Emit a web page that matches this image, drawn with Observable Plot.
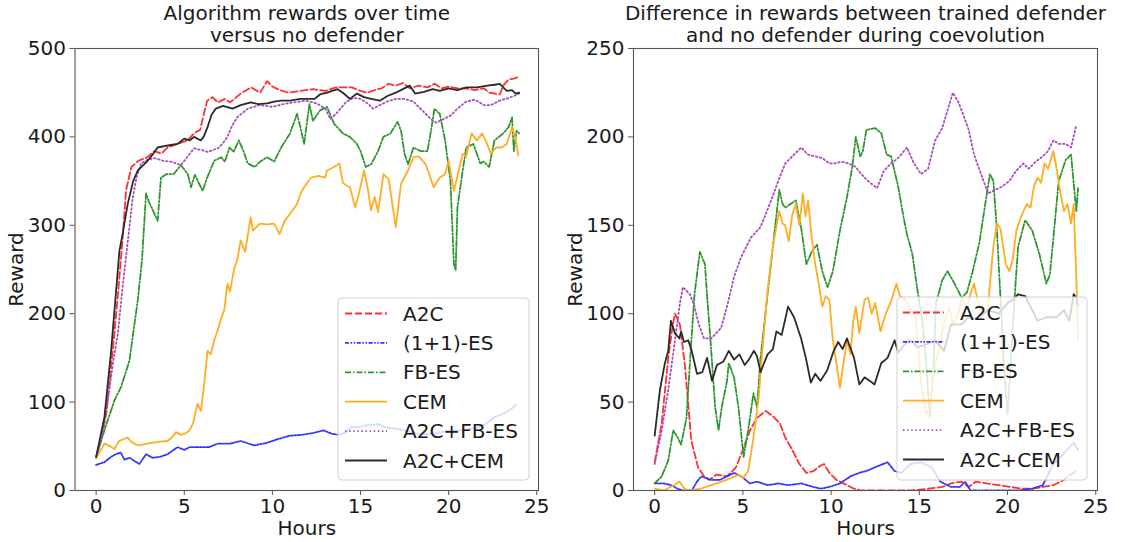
<!DOCTYPE html>
<html>
<head>
<meta charset="utf-8">
<script src="https://cdn.jsdelivr.net/npm/d3@7"></script>
<script src="https://cdn.jsdelivr.net/npm/@observablehq/plot@0.6"></script>
<style>
  html, body { margin: 0; padding: 0; background: #fff; }
  #fig { position: relative; width: 1123px; height: 542px; font-family: "DejaVu Sans", sans-serif; }
  .panel { position: absolute; top: 0; }
  .legend { position: absolute; }
</style>
</head>
<body>
<div id="fig"></div>
<script>
// ---------- series names & styles ----------
const names = ["A2C", "(1+1)-ES", "FB-ES", "CEM", "A2C+FB-ES", "A2C+CEM"];
const colors = ["#ff3030", "#3535ff", "#2f962f", "#ffad22", "#a94bc0", "#2a2a2a"];
const dashes = ["7,3", "4,1.6,1.5,1.6,1.5,1.6", "6,2,1.5,2", "none", "1.5,2.6", "none"];

// ---------- titles & ticks ----------
const leftTitle = "Algorithm rewards over time\nversus no defender";
const rightTitle = "Difference in rewards between trained defender\nand no defender during coevolution";
const xTicks = [0, 5, 10, 15, 20, 25];
const leftYTicks = [0, 100, 200, 300, 400, 500];
const rightYTicks = [0, 50, 100, 150, 200, 250];

// ---------- left panel data [hours, reward] ----------
const L_A2C = [[0,38],[0.3,58],[0.6,90],[0.95,160],[1.25,225],[1.5,285],[1.7,340],[2.0,366],[2.4,373],[2.9,377],[3.3,384],[3.7,381],[4.05,388],[4.6,392],[5.2,396],[5.55,404],[5.9,408],[6.1,425],[6.3,441],[6.6,445],[6.9,439],[7.3,443],[7.6,439],[8.2,449],[8.8,456],[9.3,450],[9.7,463],[10.0,457],[10.3,454],[10.9,450],[11.6,452],[12.3,454],[13.0,452],[13.6,456],[14.2,456],[14.5,456],[15.0,452],[15.4,450],[15.8,453],[16.2,455],[16.6,460],[17.0,458],[17.4,461],[17.8,455],[18.3,458],[18.8,456],[19.2,460],[19.6,455],[20.0,457],[20.5,455],[20.9,455],[21.5,453],[22.0,455],[22.3,450],[22.9,448],[23.1,458],[23.4,465],[23.7,466],[24.0,468]];
const L_ES = [[0,29],[0.47,32],[0.85,38],[1.1,41],[1.4,43],[1.6,35],[1.9,37],[2.2,33],[2.45,30],[2.83,41],[3.2,37],[3.6,38],[4.05,41],[4.62,49],[5.0,46],[5.3,49],[5.9,49],[6.4,49],[6.9,53],[7.6,53],[8.2,56],[8.96,51],[9.7,54],[10.3,58],[11.0,62],[11.7,63],[12.3,65],[12.9,68],[13.4,64],[13.8,63],[14.2,66],[14.5,72],[15.0,72],[15.4,74],[16.0,75],[16.5,71],[17.0,70],[17.4,68],[18.3,64],[19.2,64],[20.0,68],[20.8,68],[21.3,70],[21.8,72],[22.3,78],[22.6,83],[23.0,86],[23.3,89],[23.6,93],[23.9,98]];
const L_FBES = [[0,38],[0.5,70],[1.04,102],[1.41,117],[1.89,147],[2.36,215],[2.6,260],[2.83,336],[3.0,326],[3.2,318],[3.49,305],[3.68,354],[4.0,358],[4.4,358],[4.81,368],[5.2,358],[5.38,343],[5.6,357],[6.04,339],[6.3,354],[6.7,373],[7.1,377],[7.3,372],[7.57,388],[7.8,383],[8.1,396],[8.4,382],[8.6,370],[9.0,366],[9.3,372],[9.7,377],[10.1,372],[10.5,388],[11.0,404],[11.4,426],[11.6,410],[11.8,392],[12.1,437],[12.3,418],[12.7,430],[13.1,434],[13.5,415],[14.0,404],[14.4,400],[14.8,392],[15.0,384],[15.3,366],[15.6,369],[16.0,384],[16.3,400],[16.7,404],[17.1,417],[17.3,407],[17.5,381],[17.7,369],[18.0,388],[18.4,384],[18.8,384],[19.0,407],[19.2,432],[19.5,426],[19.8,396],[20.1,351],[20.3,256],[20.4,249],[20.5,320],[20.8,362],[21.0,388],[21.4,392],[21.8,370],[22.0,372],[22.3,366],[22.6,396],[23.1,404],[23.4,411],[23.6,422],[23.7,384],[23.85,407],[24.0,404]];
const L_CEM = [[0,36],[0.47,53],[0.8,50],[1.04,47],[1.3,56],[1.79,60],[2.0,55],[2.36,51],[2.92,53],[3.5,55],[4.05,56],[4.3,60],[4.53,66],[4.8,63],[5.0,64],[5.3,68],[5.5,76],[5.75,98],[5.95,90],[6.13,121],[6.32,158],[6.5,154],[6.7,170],[6.89,181],[7.1,195],[7.27,204],[7.45,234],[7.6,225],[7.83,251],[8.0,260],[8.2,283],[8.3,278],[8.45,270],[8.77,309],[8.9,294],[9.3,302],[9.7,301],[10.1,302],[10.4,290],[10.7,305],[11.0,313],[11.4,324],[11.6,336],[11.8,343],[12.2,354],[12.6,356],[13.0,354],[13.1,362],[13.5,366],[13.8,370],[14.0,348],[14.2,345],[14.4,343],[14.7,320],[14.9,335],[15.2,362],[15.4,343],[15.6,317],[15.8,332],[16.0,315],[16.3,358],[16.6,352],[17.0,298],[17.3,347],[17.7,362],[18.0,377],[18.3,378],[18.7,369],[19.15,343],[19.5,354],[19.8,358],[20.0,373],[20.3,339],[20.8,381],[21.0,378],[21.3,404],[21.6,396],[21.9,404],[22.1,396],[22.4,381],[22.7,388],[23.0,388],[23.3,392],[23.6,411],[23.8,398],[23.95,379]];
const L_A2CFBES = [[0,38],[0.3,60],[0.66,102],[1.0,150],[1.23,177],[1.5,230],[1.7,265],[1.9,300],[2.08,332],[2.3,355],[2.55,370],[2.9,374],[3.3,376],[3.8,373],[4.24,372],[4.81,368],[5.2,378],[5.56,387],[6.0,385],[6.32,383],[6.9,387],[7.2,393],[7.45,400],[7.7,412],[8.0,422],[8.6,432],[9.3,436],[10.0,434],[10.6,437],[11.2,439],[11.9,441],[12.5,438],[13.0,432],[13.3,420],[13.7,428],[14.2,440],[14.6,444],[15.0,443],[15.4,438],[15.7,432],[16.1,436],[16.5,440],[17.0,443],[17.5,443],[18.0,440],[18.5,430],[19.0,420],[19.3,416],[19.7,420],[20.1,424],[20.5,432],[21.0,440],[21.5,442],[22.0,436],[22.4,436],[22.9,441],[23.4,444],[23.8,447],[24.0,449]];
const L_A2CCEM = [[0,38],[0.47,83],[0.85,158],[1.32,271],[1.5,290],[1.79,324],[2.1,350],[2.36,362],[2.92,373],[3.2,380],[3.49,388],[4.0,390],[4.62,392],[5.0,398],[5.3,396],[5.56,400],[5.94,396],[6.1,400],[6.32,411],[6.55,425],[6.79,432],[7.2,435],[7.74,432],[8.2,436],[8.77,439],[9.2,437],[9.7,438],[10.1,440],[10.5,441],[11.0,441],[11.6,443],[12.0,443],[12.4,443],[12.7,448],[13.1,450],[13.4,452],[13.7,454],[14.0,450],[14.4,443],[14.8,449],[15.2,445],[15.6,443],[16.1,441],[16.5,446],[17.0,450],[17.4,454],[17.8,458],[18.1,449],[18.6,451],[19.1,454],[19.5,452],[20.0,455],[20.5,453],[21.0,456],[21.6,456],[22.2,458],[22.6,459],[22.9,460],[23.3,452],[23.6,453],[23.8,449],[24.0,450]];

// ---------- right panel data [hours, reward difference] ----------
const R_A2C = [[0,16],[0.4,38],[0.77,75],[1.0,92],[1.15,100],[1.43,94],[1.71,71],[2.08,28],[2.46,13],[2.8,8],[3.1,6],[3.5,9],[4.1,8],[4.6,13],[5.0,23],[5.4,34],[5.8,41],[6.3,45],[6.7,42],[7.1,38],[7.4,30],[7.8,23],[8.2,15],[8.6,10],[9.0,11],[9.4,14],[9.6,15],[9.9,10],[10.3,6],[10.7,4],[11.3,1],[11.7,0],[12.5,0],[13.5,0],[14.5,0],[15.5,1],[16.3,2],[16.8,4],[17.4,5],[17.8,2],[18.2,5],[18.8,4],[19.5,3],[20.2,2],[20.8,1],[21.4,1],[22.0,2],[22.6,3],[23.2,6],[23.5,8.5],[23.9,11]];
const R_ES = [[0,4],[0.5,4],[0.94,3],[1.3,1],[1.6,0],[2.1,0],[2.4,5],[2.64,8],[3.2,6],[3.7,6],[4.1,8],[4.5,10],[4.9,8],[5.4,4],[5.8,5],[6.4,3],[7.0,4],[7.6,3],[8.3,4],[9.0,2],[9.4,1],[9.9,2],[10.5,4],[11.1,8],[11.6,10],[12.0,11],[12.46,13],[13.2,16],[13.6,11],[14.0,10],[14.5,15],[15.1,16],[15.7,13],[16.2,5],[16.8,2],[17.3,2],[17.6,5],[17.9,0],[18.5,0],[19.5,0],[20.6,0],[21.4,1],[22.0,3],[22.6,15],[23.2,21],[23.75,27],[24.0,23]];
const R_FBES = [[0,4],[0.4,8],[0.77,17],[1.05,34],[1.3,30],[1.5,26],[1.8,41],[2.08,85],[2.26,111],[2.56,135],[2.85,128],[3.0,106],[3.15,87],[3.43,47],[3.62,34],[3.8,47],[4.1,62],[4.2,72],[4.5,64],[4.75,47],[5.04,19],[5.3,34],[5.6,55],[5.8,47],[6.0,75],[6.3,102],[6.7,138],[7.06,170],[7.25,162],[7.4,160],[7.7,162],[8.0,164],[8.3,149],[8.6,128],[8.9,135],[9.2,139],[9.5,124],[9.8,115],[10.1,124],[10.5,147],[10.9,166],[11.2,183],[11.4,200],[11.65,189],[11.8,192],[12.0,204],[12.5,205],[12.85,202],[13.15,190],[13.4,189],[13.8,172],[14.1,155],[14.3,145],[14.6,134],[14.9,113],[15.2,94],[15.4,70],[15.6,42],[15.8,70],[15.95,106],[16.3,119],[16.6,124],[17.0,117],[17.4,109],[17.7,112],[18.0,123],[18.4,140],[18.8,166],[19.0,179],[19.2,175],[19.4,147],[19.6,109],[19.8,70],[20.0,43],[20.2,75],[20.4,109],[20.6,138],[21.0,153],[21.4,147],[21.8,134],[22.2,117],[22.4,122],[22.6,143],[22.9,175],[23.3,187],[23.6,190],[23.9,158],[24.0,171]];
const R_CEM = [[0,1],[0.5,0],[1.1,3],[1.4,5],[1.7,1],[2.0,0],[2.6,1],[3.2,3],[3.8,5],[4.3,7],[4.8,9],[5.0,7],[5.3,11],[5.6,30],[5.9,53],[6.1,79],[6.4,113],[6.7,138],[7.06,158],[7.25,151],[7.4,150],[7.6,141],[7.8,156],[8.0,162],[8.2,150],[8.4,168],[8.55,155],[8.7,164],[8.9,143],[9.1,128],[9.3,117],[9.5,104],[9.7,110],[9.9,108],[10.1,85],[10.3,72],[10.5,58],[10.7,72],[10.9,85],[11.1,77],[11.25,95],[11.4,104],[11.6,89],[11.9,108],[12.1,109],[12.3,100],[12.5,106],[12.8,90],[13.1,100],[13.4,107],[13.7,117],[13.9,110],[14.2,108],[14.5,102],[14.8,98],[15.1,60],[15.4,43],[15.6,47],[15.8,66],[16.1,80],[16.4,94],[16.7,104],[16.9,94],[17.2,100],[17.4,108],[17.7,104],[17.9,111],[18.1,117],[18.3,108],[18.6,100],[18.9,104],[19.0,117],[19.2,138],[19.4,151],[19.6,148],[19.9,128],[20.1,124],[20.3,131],[20.5,147],[20.7,153],[20.9,158],[21.1,162],[21.3,160],[21.5,172],[21.7,177],[21.9,174],[22.1,185],[22.3,182],[22.6,192],[22.8,181],[23.0,168],[23.2,158],[23.4,162],[23.6,151],[23.75,162],[23.9,120],[24.0,85]];
const R_A2CFBES = [[0,15],[0.4,34],[0.77,57],[1.15,85],[1.43,106],[1.6,115],[2.0,111],[2.26,104],[2.5,94],[2.8,86],[3.2,86],[3.77,92],[4.15,106],[4.5,121],[4.9,132],[5.45,143],[6.0,149],[6.6,164],[7.0,175],[7.4,185],[7.8,189],[8.3,194],[8.7,190],[9.1,189],[9.5,188],[9.9,185],[10.2,185],[10.6,186],[11.0,185],[11.4,183],[11.7,179],[12.1,175],[12.6,171],[13.0,181],[13.4,185],[13.8,188],[14.3,194],[14.7,185],[15.1,179],[15.5,182],[15.9,198],[16.3,205],[16.6,215],[16.9,225],[17.2,220],[17.4,215],[17.8,204],[18.1,190],[18.5,179],[18.9,168],[19.3,170],[19.7,172],[20.1,175],[20.5,181],[20.9,185],[21.2,182],[21.6,186],[22.0,189],[22.3,192],[22.6,198],[22.9,196],[23.3,196],[23.6,194],[23.9,207]];
const R_A2CCEM = [[0,31],[0.3,57],[0.58,72],[0.77,79],[0.92,96],[1.15,89],[1.4,86],[1.5,90],[1.66,84],[1.9,85],[2.1,79],[2.4,66],[2.7,67],[2.97,75],[3.25,62],[3.53,71],[3.9,73],[4.2,79],[4.5,74],[4.8,77],[5.1,71],[5.34,74],[5.62,79],[5.8,76],[6.0,67],[6.4,77],[6.7,80],[6.9,90],[7.2,88],[7.56,104],[7.9,98],[8.3,86],[8.57,75],[8.85,61],[9.1,66],[9.4,62],[9.78,68],[10.15,79],[10.4,84],[10.65,80],[10.9,86],[11.3,75],[11.6,60],[11.9,64],[12.2,62],[12.46,60],[12.84,72],[13.2,75],[13.6,85],[13.8,78],[14.2,83],[14.5,85],[14.9,81],[15.5,83],[15.9,85],[16.4,79],[16.8,94],[17.4,94],[17.8,98],[18.3,97],[18.9,102],[19.5,100],[20.0,106],[20.3,108],[20.6,111],[21.0,110],[21.4,102],[21.7,96],[22.2,98],[22.8,98],[23.2,102],[23.5,96],[23.75,111],[23.9,109],[24.0,105]];

const leftSeries = [L_A2C, L_ES, L_FBES, L_CEM, L_A2CFBES, L_A2CCEM];
const rightSeries = [R_A2C, R_ES, R_FBES, R_CEM, R_A2CFBES, R_A2CCEM];

const FONT = "DejaVu Sans, sans-serif";
const FS = 20;

function panel(series, yMax, yTicks, title, mLeft, mRight) {
  const marks = series.map((data, i) => Plot.line(data, {
    x: d => d[0], y: d => d[1],
    stroke: colors[i], strokeWidth: 1.8,
    strokeDasharray: dashes[i] === "none" ? null : dashes[i],
    strokeLinejoin: "round", clip: true
  }));
  return Plot.plot({
    width: 561, height: 542,
    marginLeft: mLeft, marginRight: mRight, marginTop: 48, marginBottom: 52,
    style: { fontFamily: FONT, fontSize: FS + "px", color: "#1a1a1a", background: "white", overflow: "visible" },
    x: { domain: [-1.2, 25.1] },
    y: { domain: [0, yMax] },
    marks: [
      ...marks,
      Plot.frame({ stroke: "#555", strokeWidth: 1.1 }),
      Plot.axisX({ ticks: xTicks, tickSize: 5, tickPadding: 3, stroke: "#555", fill: "#1a1a1a",
        label: "Hours", labelAnchor: "center", labelArrow: "none", labelOffset: 44 }),
      Plot.axisY({ ticks: yTicks, tickSize: 5, tickPadding: 4, stroke: "#555", fill: "#1a1a1a",
        label: "Reward", labelAnchor: "center", labelArrow: "none", labelOffset: 66 }),
      Plot.text([title], { frameAnchor: "top", lineAnchor: "bottom", dy: -7, lineHeight: 1.1, fill: "#1a1a1a", fontSize: FS })
    ]
  });
}

function legend(left, top, w, h, x0, x1, tx) {
  const svg = d3.create("svg").attr("class", "legend").attr("width", w + 2).attr("height", h + 2)
    .style("left", (left - 1) + "px").style("top", (top - 1) + "px");
  svg.append("rect").attr("x", 1).attr("y", 1).attr("width", w).attr("height", h).attr("rx", 4)
    .attr("fill", "white").attr("fill-opacity", 0.8).attr("stroke", "#d0d0d0").attr("stroke-width", 1);
  names.forEach((n, i) => {
    const cy = 1 + 15.5 + i * 29.4;
    svg.append("line").attr("x1", x0).attr("x2", x1).attr("y1", cy).attr("y2", cy)
      .attr("stroke", colors[i]).attr("stroke-width", 1.8)
      .attr("stroke-dasharray", dashes[i] === "none" ? null : dashes[i]);
    svg.append("text").attr("x", tx).attr("y", cy).attr("dy", "0.35em")
      .attr("font-family", FONT).attr("font-size", FS).attr("fill", "#1a1a1a").text(n);
  });
  return svg.node();
}

const fig = document.getElementById("fig");
const p1 = panel(leftSeries, 500, leftYTicks, leftTitle, 74.5, 23);
p1.classList.add("panel"); p1.style.left = "0px";
const p2 = panel(rightSeries, 250, rightYTicks, rightTitle, 72, 25);
p2.classList.add("panel"); p2.style.left = "561px";
fig.appendChild(p1);
fig.appendChild(p2);
fig.appendChild(legend(338, 298, 191, 182, 8, 50, 66));
fig.appendChild(legend(897, 297, 190, 183, 7, 48, 64));
</script>
</body>
</html>
